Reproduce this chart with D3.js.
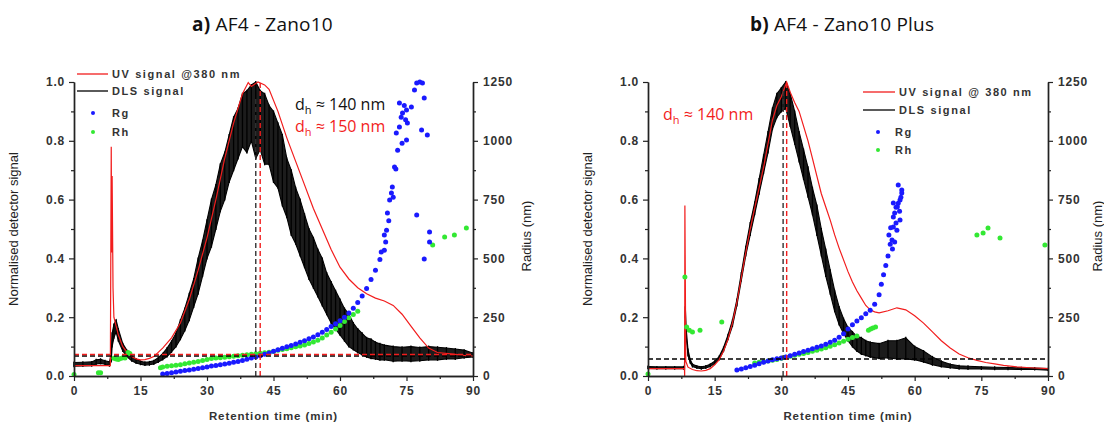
<!DOCTYPE html>
<html>
<head>
<meta charset="utf-8">
<script src="https://cdn.jsdelivr.net/npm/d3@7"></script>
<style>
  body { margin: 0; background: #fff; }
  svg { display: block; }
</style>
</head>
<body>
<svg id="chart"></svg>
<script>
// ---------- panel a: AF4 - Zano10 ----------
const dlsTimeA = [0,2,4,5,6,7,8,8.4,8.6,9,9.5,10,
  11,12,13,14,15,16,17,18,19,20,21,22,23,24,25,26,27,28,29,30,
  31,32,33,34,35,36,37,38,39,40,41,42,43,44,45,46,47,48,49,50,
  51,52,53,54,55,56,57,58,59,60,61,62,63,64,65,66,67,68,69,70,
  72,74,76,78,80,82,84,86,88,90];
const dlsLowA = [.033,.034,.035,.041,.043,.04,.035,.05,.1,.13,.15,.12,
  .085,.065,.052,.044,.04,.037,.038,.041,.048,.056,
  .066,.082,.1,.125,.155,.19,.235,.28,.34,.4,
  .44,.5,.56,.6,.66,.7,.74,.78,.76,.8,
  .74,.77,.72,.72,.66,.64,.58,.54,.48,.45,
  .41,.37,.33,.3,.27,.24,.21,.18,.16,.14,
  .12,.1,.09,.08,.072,.065,.06,.058,.055,.055,
  .05,.052,.05,.052,.055,.055,.058,.058,.062,.065];
const dlsHighA = [.046,.047,.048,.055,.057,.052,.048,.075,.145,.175,.19,.16,
  .11,.086,.068,.058,.05,.047,.048,.052,.062,.076,
  .095,.118,.145,.19,.23,.28,.33,.4,.46,.53,
  .6,.65,.72,.76,.82,.88,.91,.96,.97,.99,
  1.0,.97,.96,.92,.9,.86,.82,.74,.7,.64,
  .6,.55,.5,.47,.43,.4,.35,.32,.29,.26,
  .23,.21,.18,.16,.145,.13,.125,.115,.11,.105,
  .1,.098,.1,.097,.1,.098,.095,.092,.088,.078];

const uvTimeA = [0,8.2,8.4,8.5,8.6,8.8,9,
  10,11,12,13,14,15,16,17,18,
  20,22,24,26,28,30,32,34,36,38,
  39.3,40,41.5,43,44,
  46,48,50,52,54,56,58,60,62,64,66,68,70,72,74,76,78,80,82,
  85,88,90];
const uvValueA = [0.035,0.035,0.78,0.42,0.68,0.3,0.2,
  0.14,0.1,0.08,0.066,0.058,0.055,0.056,0.06,0.066,
  0.095,0.13,0.18,0.26,0.36,0.47,0.6,0.74,0.86,0.96,
  0.998,0.985,1.0,0.99,0.975,
  0.9,0.81,0.73,0.65,0.57,0.5,0.43,0.37,0.33,0.3,0.28,0.265,0.255,0.24,0.21,0.17,0.13,0.095,0.08,
  0.075,0.07,0.068];

const rgTimeA = [20,21,22,23,24,25,26,27,28,29,30,31,32,33,34,35,36,37,38,39,
  40,41,42,43,44,45,46,47,48,49,50,51,52,53,54,55,56,57,58,59,
  60,61,62,63,64,65,66,67,68,69,70,
  69.3,70.3,70.5,70.7,71.2,71.6,71.8,72.3,72.6,73,72.7,73.4,74.1,75,76.1,75.2,73.4,76.8,
  77.3,78,78.6,79,78.4,79.7,77.3,80.2,80.2,79,75,74,73.8,74.5,72,71,70,74.8];
const rgRadiusA = [8,11,14,17,20,23,26,29,32,35,38,42,45,48,51,54,58,62,66,71,
  76,81,86,92,98,105,112,118,124,130,136,143,150,158,166,175,186,198,210,222,
  235,250,268,288,312,340,372,410,450,495,535,
  527,570,620,693,748,778,804,889,880,960,1033,1059,1118,1131,1144,1076,1161,1216,
  1246,1250,1246,1182,1046,1025,685,612,570,497,1003,990,1100,1150,760,660,600,1090];

const rhTimeA = [0,5.5,6,9,9.5,10,10.5,11,11.5,12.2,12.6,
  19.5,20,21,22,23,24,25,26,27,28,29,30,31,32,33,34,35,36,37,38,39,
  40,41,42,43,44,45,46,47,48,49,50,51,52,53,54,55,56,57,58,59,
  60,61,62,63,64,
  80.9,83.6,85.8,88.5];
const rhRadiusA = [6,14,14,75,72,70,74,78,76,100,96,
  35,38,41,44,46,48,52,55,58,62,66,70,74,76,78,80,82,84,86,88,90,
  92,95,97,99,101,104,110,113,116,120,124,128,132,138,145,152,162,174,186,200,
  215,232,248,262,275,
  557,591,600,629];

// ---------- panel b: AF4 - Zano10 Plus ----------
const dlsTimeB = [0,2,4,6,8,8.2,8.4,8.6,9,9.5,
  10,11,12,13,14,15,16,17,18,19,20,21,22,23,24,25,26,27,28,29,
  30,31,32,33,34,35,36,37,38,39,40,41,42,43,44,45,46,47,48,49,50,
  52,54,56,58,60,62,64,66,68,70,
  72,75,78,81,84,87,90];
const dlsLowB = [.026,.025,.025,.025,.025,.025,.2,.13,.07,.045,
  .032,.027,.025,.027,.032,.042,.056,.085,.125,.17,
  .24,.325,.41,.48,.55,.62,.69,.76,.84,.88,
  .9,.91,.85,.79,.73,.67,.61,.55,.48,.41,
  .34,.28,.22,.175,.145,.12,.1,.085,.075,.07,
  .065,.06,.062,.058,.058,.055,.048,.038,.032,.028,
  .025,.024,.024,.023,.023,.022,.022,.02];
const dlsHighB = [.032,.031,.031,.031,.031,.032,.235,.16,.09,.056,
  .04,.034,.031,.034,.04,.05,.066,.097,.14,.19,
  .26,.35,.44,.52,.59,.67,.75,.83,.91,.96,
  .98,1.0,.96,.9,.83,.77,.71,.64,.58,.5,
  .43,.36,.29,.235,.195,.165,.15,.135,.13,.12,
  .115,.11,.12,.12,.13,.1,.085,.065,.05,.04,
  .035,.033,.031,.03,.029,.028,.027,.025];

const uvTimeB = [0,8.2,8.25,8.3,8.5,9,
  10,11,12,13,14,15,16,17,18,19,20,21,22,23,24,25,26,27,28,29,30,
  31.2,
  32,33,34,35,36,37,38,39,40,41,42,43,44,45,46,47,48,49,50,51,52,
  54,56,58,60,62,64,66,68,70,72,74,76,78,80,
  83,86,90];
const uvValueB = [0.025,0.025,0,0.58,0.05,0.03,
  0.022,0.018,0.017,0.019,0.025,0.038,0.055,0.085,0.125,0.18,0.25,0.335,0.42,0.5,0.57,0.64,0.71,0.79,0.87,0.92,0.95,
  1.0,
  0.965,0.93,0.9,0.85,0.8,0.74,0.68,0.62,0.575,0.53,0.48,0.435,0.395,0.355,0.32,0.29,0.265,0.24,0.225,0.218,0.215,
  0.222,0.232,0.225,0.205,0.18,0.15,0.12,0.095,0.075,0.062,0.053,0.046,0.041,0.036,
  0.031,0.028,0.025];

const rgTimeB = [20,21,22,23,24,25,26,27,28,29,30,31,32,33,34,35,36,37,38,39,
  40,41,42,43,44,45,46,47,48,49,50,51,52,52.5,53,53.5,54,54.5,
  54.9,55.2,55.5,55.8,56.7,57.1,56.3,55.2,56.1,56.7,56,55.5,55.2,56.3,57.1,55,56.6,54.2,56.9,55.8,54.6];
const rgRadiusB = [25,30,35,40,46,52,58,64,69,73,77,81,86,92,98,104,110,116,122,128,
  135,143,152,165,180,200,218,234,248,265,280,305,345,390,430,470,510,560,
  578,633,693,718,748,791,812,736,720,663,620,570,676,735,778,540,700,600,760,650,630];

const rhTimeB = [0,8.3,8.7,9.3,10,11.7,16.6,
  24,25,26,27,28,29,30,31,32,33,34,35,36,37,38,39,40,41,42,43,44,45,46,47,
  49.6,50.1,50.6,51.2,
  74,75.4,76.5,79.2,89.3];
const rhRadiusB = [8,421,208,195,187,195,230,
  55,58,61,64,67,70,75,80,84,88,92,96,100,105,110,115,120,126,133,140,148,156,164,170,
  195,200,204,208,
  600,608,629,587,557];

// ticks
const xTicks = [0,15,30,45,60,75,90];
const xMinor = [7.5,22.5,37.5,52.5,67.5,82.5];
const yTicks = [0,0.2,0.4,0.6,0.8,1.0];
const yMinor = [0.1,0.3,0.5,0.7,0.9];
const rTicks = [0,250,500,750,1000,1250];
const rMinor = [125,375,625,875,1125];

const W = 1104, H = 424;
const RED = '#f21d1d', BLUE = '#1a1aff', GREEN = '#33e833';
const tickFont = 'Liberation Sans, Arial, sans-serif';

const svg = d3.select('#chart').attr('width', W).attr('height', H);

function drawPanel(p) {
  const x = d3.scaleLinear().domain([0, 90]).range([p.left, p.right]);
  const y = d3.scaleLinear().domain([0, 1]).range([376, 82]);
  const yR = d3.scaleLinear().domain([0, 1250]).range([376, 82]);
  const g = svg.append('g');

  // DLS band (noisy signal): filled envelope plus per-sample strokes
  const dls = p.dlsTime.map((t, i) => ({t, lo: p.dlsLow[i], hi: p.dlsHigh[i]}));
  g.append('path')
    .datum(dls)
    .attr('fill', '#1c1c1c')
    .attr('stroke', '#000')
    .attr('stroke-width', 1.1)
    .attr('d', d3.area().x(d => x(d.t)).y0(d => y(d.lo)).y1(d => y(d.hi)));
  g.append('g').selectAll('line')
    .data(dls)
    .join('line')
    .attr('x1', d => x(d.t)).attr('x2', d => x(d.t))
    .attr('y1', d => y(d.lo) + 1).attr('y2', d => y(d.hi) - 1)
    .attr('stroke', '#000')
    .attr('stroke-width', 1.3);

  const uv = p.uvTime.map((t, i) => ({t, v: p.uvValue[i]}));
  g.append('path')
    .datum(uv)
    .attr('fill', 'none')
    .attr('stroke', RED)
    .attr('stroke-width', 1.2)
    .attr('d', d3.line().x(d => x(d.t)).y(d => y(d.v)));

  // radius points
  const pts = (times, radii, color) => {
    g.append('g').selectAll('circle')
      .data(times.map((t, i) => ({t, r: radii[i]})))
      .join('circle')
      .attr('cx', d => x(d.t))
      .attr('cy', d => yR(d.r))
      .attr('r', 2.5)
      .attr('fill', color);
  };
  pts(p.rhTime, p.rhRadius, GREEN);
  pts(p.rgTime, p.rgRadius, BLUE);

  // dashed reference lines
  p.hLines.forEach(h => {
    g.append('line')
      .attr('x1', x(0)).attr('x2', x(90))
      .attr('y1', y(h.v)).attr('y2', y(h.v))
      .attr('stroke', h.c).attr('stroke-width', 1.4)
      .attr('stroke-dasharray', '5,3');
  });
  p.vLines.forEach(v => {
    g.append('line')
      .attr('x1', x(v.t)).attr('x2', x(v.t))
      .attr('y1', y(0)).attr('y2', y(v.top))
      .attr('stroke', v.c).attr('stroke-width', 1.4)
      .attr('stroke-dasharray', '5,3');
  });

  // axes
  const styleAxis = sel => {
    sel.select('.domain').attr('stroke', '#222').attr('stroke-width', 1.4);
    sel.selectAll('.tick line').attr('stroke', '#222').attr('stroke-width', 1.2);
    sel.selectAll('text')
      .attr('font-family', tickFont)
      .attr('font-size', 12)
      .attr('font-weight', 'bold')
      .attr('letter-spacing', 0.8)
      .attr('fill', '#333');
  };
  g.append('g').attr('transform', 'translate(0,376)')
    .call(d3.axisBottom(x).tickValues(xMinor).tickSize(3).tickFormat('').tickSizeOuter(0))
    .call(styleAxis);
  g.append('g').attr('transform', 'translate(0,376)')
    .call(d3.axisBottom(x).tickValues(xTicks).tickSize(5).tickPadding(5).tickSizeOuter(0))
    .call(styleAxis);

  g.append('g').attr('transform', `translate(${p.left},0)`)
    .call(d3.axisLeft(y).tickValues(yMinor).tickSize(3).tickFormat('').tickSizeOuter(0))
    .call(styleAxis);
  g.append('g').attr('transform', `translate(${p.left},0)`)
    .call(d3.axisLeft(y).tickValues(yTicks).tickSize(5).tickPadding(4)
      .tickFormat(d3.format('.1f')).tickSizeOuter(0))
    .call(styleAxis);

  g.append('g').attr('transform', `translate(${p.right},0)`)
    .call(d3.axisRight(yR).tickValues(rMinor).tickSize(3).tickFormat('').tickSizeOuter(0))
    .call(styleAxis);
  g.append('g').attr('transform', `translate(${p.right},0)`)
    .call(d3.axisRight(yR).tickValues(rTicks).tickSize(5).tickPadding(5)
      .tickFormat(d3.format('d')).tickSizeOuter(0))
    .call(styleAxis);

  // axis titles
  g.append('text')
    .attr('transform', `translate(${p.left - 56},229) rotate(-90)`)
    .attr('text-anchor', 'middle')
    .attr('font-family', tickFont)
    .attr('font-size', 13)
    .attr('fill', '#222')
    .text('Normalised detector signal');
  g.append('text')
    .attr('transform', `translate(${p.rightTitleX},236) rotate(-90)`)
    .attr('text-anchor', 'middle')
    .attr('font-family', tickFont)
    .attr('font-size', 13)
    .attr('fill', '#222')
    .text('Radius (nm)');
  g.append('text')
    .attr('x', (p.left + p.right) / 2)
    .attr('y', 420)
    .attr('text-anchor', 'middle')
    .attr('font-family', tickFont)
    .attr('font-size', 11.5)
    .attr('font-weight', 'bold')
    .attr('letter-spacing', 0.9)
    .attr('fill', '#333')
    .text('Retention time (min)');

  // panel title
  const title = g.append('text')
    .attr('x', p.titleX)
    .attr('y', 31)
    .attr('font-family', 'Open Sans, sans-serif')
    .attr('font-size', 19)
    .attr('letter-spacing', 0.2)
    .attr('fill', '#111');
  title.append('tspan').attr('font-weight', 'bold').text(p.titleTag);
  title.append('tspan').text(' ' + p.titleText);

  // legend
  const lg = p.legend;
  const legText = (tx, ty, s) => g.append('text')
    .attr('x', tx).attr('y', ty)
    .attr('font-family', tickFont)
    .attr('font-size', 11)
    .attr('font-weight', 'bold')
    .attr('letter-spacing', 1.6)
    .attr('fill', '#333')
    .text(s);
  [[RED, p.uvLabel, lg.y0], ['#000', 'DLS signal', lg.y0 + lg.dyLine]].forEach(([c, s, ly]) => {
    g.append('line')
      .attr('x1', lg.lineX0).attr('x2', lg.lineX1)
      .attr('y1', ly).attr('y2', ly)
      .attr('stroke', c).attr('stroke-width', 1.3);
    legText(lg.lineX1 + 4, ly + 4, s);
  });
  [[BLUE, 'Rg', lg.dotY0], [GREEN, 'Rh', lg.dotY0 + lg.dyDot]].forEach(([c, s, ly]) => {
    g.append('circle')
      .attr('cx', lg.dotX).attr('cy', ly)
      .attr('r', 2)
      .attr('fill', c);
    legText(lg.dotTextX, ly + 4, s);
  });

  // d_h annotations
  p.notes.forEach(n => {
    const t = g.append('text')
      .attr('x', n.x).attr('y', n.y)
      .attr('font-family', 'Open Sans, sans-serif')
      .attr('font-size', 16)
      .attr('fill', n.c);
    t.append('tspan').text('d');
    t.append('tspan').attr('font-size', 11).attr('dy', 4).text('h');
    t.append('tspan').attr('dy', -4).text(' \u2248 ' + n.s);
  });
}

drawPanel({
  left: 74, right: 473, rightTitleX: 531,
  dlsTime: dlsTimeA, dlsLow: dlsLowA, dlsHigh: dlsHighA,
  uvTime: uvTimeA, uvValue: uvValueA,
  rgTime: rgTimeA, rgRadius: rgRadiusA,
  rhTime: rhTimeA, rhRadius: rhRadiusA,
  hLines: [{v: 0.068, c: '#000'}, {v: 0.073, c: RED}],
  vLines: [{t: 41, top: 0.95, c: '#333'}, {t: 42, top: 1.0, c: RED}],
  titleX: 192, titleTag: 'a)', titleText: 'AF4 - Zano10',
  uvLabel: 'UV signal @380 nm',
  legend: {lineX0: 77, lineX1: 108, y0: 74, dyLine: 17, dotX: 93, dotTextX: 112, dotY0: 113, dyDot: 19},
  notes: [{x: 295, y: 110, c: '#111', s: '140 nm'}, {x: 295, y: 132, c: RED, s: '150 nm'}]
});

drawPanel({
  left: 648, right: 1048, rightTitleX: 1102,
  dlsTime: dlsTimeB, dlsLow: dlsLowB, dlsHigh: dlsHighB,
  uvTime: uvTimeB, uvValue: uvValueB,
  rgTime: rgTimeB, rgRadius: rgRadiusB,
  rhTime: rhTimeB, rhRadius: rhRadiusB,
  hLines: [{v: 0.058, c: '#000'}],
  vLines: [{t: 30.4, top: 0.97, c: '#333'}, {t: 31.2, top: 1.0, c: RED}],
  titleX: 750, titleTag: 'b)', titleText: 'AF4 - Zano10 Plus',
  uvLabel: 'UV signal @ 380 nm',
  legend: {lineX0: 863, lineX1: 895, y0: 92, dyLine: 18, dotX: 878, dotTextX: 895, dotY0: 132, dyDot: 18},
  notes: [{x: 663, y: 120, c: RED, s: '140 nm'}]
});
</script>
</body>
</html>
